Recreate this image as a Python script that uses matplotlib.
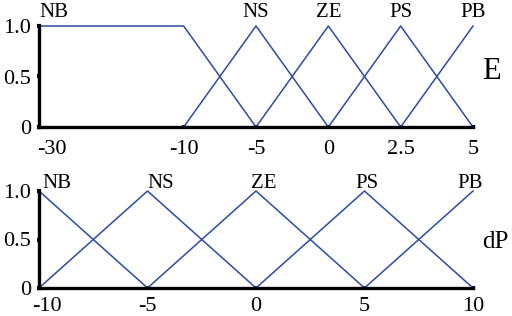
import numpy as np
import matplotlib
matplotlib.use("Agg")
import matplotlib.pyplot as plt
import matplotlib.transforms as mtransforms

plt.rcParams['font.family'] = ['Liberation Serif', 'DejaVu Serif']
plt.rcParams['axes.unicode_minus'] = False

# ---- data: E (top panel) ----
e_ticks = [-30, -10, -5, 0, 2.5, 5]
e_tick_labels = ["-30", "-10", "-5", "0", "2.5", "5"]
e_tick_pos = [0, 2, 3, 4, 5, 6]          # nonuniform axis layout
e_sets = ["NB", "NS", "ZE", "PS", "PB"]
e_x = [[-30, -10, -5], [-10, -5, 0], [-5, 0, 2.5], [0, 2.5, 5], [2.5, 5]]
e_mu = [[1, 1, 0], [0, 1, 0], [0, 1, 0], [0, 1, 0], [0, 1]]
e_peaks = [-30, -5, 0, 2.5, 5]

# ---- data: dP (bottom panel) ----
dp_ticks = [-10, -5, 0, 5, 10]
dp_tick_labels = ["-10", "-5", "0", "5", "10"]
dp_sets = ["NB", "NS", "ZE", "PS", "PB"]
dp_x = [[-10, -5], [-10, -5, 0], [-5, 0, 5], [0, 5, 10], [5, 10]]
dp_mu = [[1, 0], [0, 1, 0], [0, 1, 0], [0, 1, 0], [0, 1]]
dp_peaks = [-10, -5, 0, 5, 10]

y_ticks = [0, 0.5, 1.0]
y_tick_labels = ["0", "0.5", "1.0"]

line_color = "#2b4ca3"

fig = plt.figure(figsize=(5.12, 3.16), dpi=100)
ax1 = fig.add_axes([39/512, 1-127/316, 434/512, 101/316])
ax2 = fig.add_axes([39/512, 1-288/316, 434/512, 97/316])

def fwd(v):
    return np.interp(v, e_ticks, e_tick_pos)
def inv(p):
    return np.interp(p, e_tick_pos, e_ticks)

ax1.set_xscale('function', functions=(fwd, inv))

def style(ax, xticks, xlabels, xlim, xpad, first_shift):
    ax.set_xlim(*xlim)
    ax.set_ylim(0, 1)
    for s in ['top', 'right']:
        ax.spines[s].set_visible(False)
    for s in ['left', 'bottom']:
        ax.spines[s].set_linewidth(2.4)
        ax.spines[s].set_color('black')
    ax.set_xticks(xticks)
    ax.set_xticklabels(xlabels)
    ax.set_yticks(y_ticks)
    ax.set_yticklabels(y_tick_labels)
    ax.xaxis.set_minor_locator(matplotlib.ticker.NullLocator())
    ax.tick_params(axis='both', direction='inout', length=3, width=3,
                   labelsize=16, colors='black')
    ax.tick_params(axis='x', pad=xpad)
    ax.tick_params(axis='y', pad=4)
    lab = ax.get_xticklabels()[0]
    lab.set_transform(lab.get_transform() +
                      mtransforms.ScaledTranslation(first_shift / 100, 0,
                                                    fig.dpi_scale_trans))

for xs, ms in zip(e_x, e_mu):
    ax1.plot(xs, ms, color=line_color, lw=1.1, clip_on=False)
style(ax1, e_ticks, e_tick_labels, (-30, 5), 8, 13)
for name, p in zip(e_sets, e_peaks):
    ax1.text(p, 1.09, name, ha='left' if name == "NB" else 'center',
             va='baseline', fontsize=15,
             transform=ax1.get_xaxis_transform())
ax1.text(1.022, 0.55, "E", fontsize=22, ha='left', va='center',
         transform=ax1.transAxes)

for xs, ms in zip(dp_x, dp_mu):
    ax2.plot(xs, ms, color=line_color, lw=1.1, clip_on=False)
style(ax2, dp_ticks, dp_tick_labels, (-10, 10), 5, 8)
for name, p in zip(dp_sets, dp_peaks):
    off = {"NB": 0.15, "NS": 0.6, "ZE": 0.35, "PS": 0.1, "PB": -0.15}[name]
    ax2.text(p + off, 1.03, name, ha='left' if name == "NB" else 'center',
             va='baseline', fontsize=15, transform=ax2.get_xaxis_transform())
ax2.text(1.02, 0.47, "dP", fontsize=18, ha='left', va='center',
         transform=ax2.transAxes)

fig.savefig("out.png", dpi=100)
